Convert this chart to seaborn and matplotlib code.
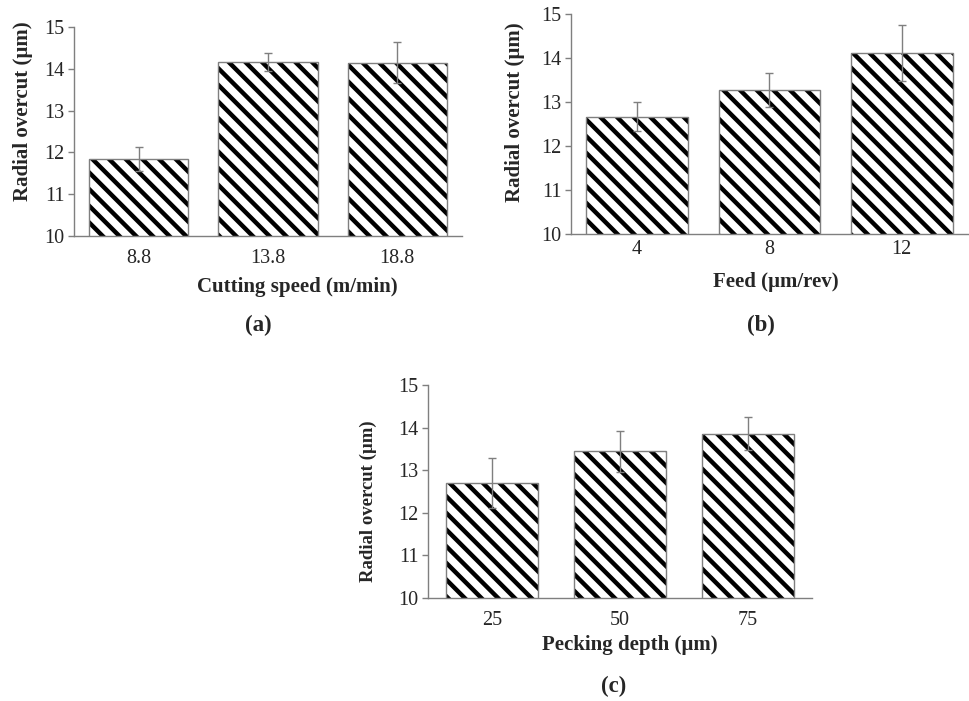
import matplotlib
matplotlib.use("Agg")
import matplotlib.pyplot as plt
import seaborn as sns
import pandas as pd
import numpy as np

# ---- data ----
speed_labels = ["8.8", "13.8", "18.8"]
speed_values = [11.85, 14.16, 14.14]
speed_err = [0.29, 0.22, 0.49]

feed_labels = ["4", "8", "12"]
feed_values = [12.67, 13.27, 14.12]
feed_err = [0.32, 0.39, 0.64]

depth_labels = ["25", "50", "75"]
depth_values = [12.70, 13.44, 13.86]
depth_err = [0.59, 0.49, 0.39]

sns.set_theme(style="white")
plt.rcParams["font.family"] = ["Liberation Serif", "DejaVu Serif"]
plt.rcParams["hatch.linewidth"] = 3.2

fig = plt.figure(figsize=(9.70, 7.01), dpi=100)

GRAY = "#7f7f7f"

panels = [
    # labels, values, err, xlabel, rect, barwidth, ylabel coords, xlabel coords, tickpad, xlabel fs, ylabel fs
    (speed_labels, speed_values, speed_err, "Cutting speed (m/min)",
     [74/970, 1-236/701, 388/970, 209/701], 0.767, (-0.131, 0.598), (0.575, -0.244), 3.6, 15, 15),
    (feed_labels, feed_values, feed_err, "Feed (\u00b5m/rev)",
     [571/970, 1-234/701, 397/970, 220/701], 0.77, (-0.141, 0.555), (0.516, -0.218), -2.0, 15, 15),
    (depth_labels, depth_values, depth_err, "Pecking depth (\u00b5m)",
     [428/970, 1-598/701, 384/970, 213/701], 0.72, (-0.156, 0.455), (0.526, -0.221), 3.6, 15, 13.5),
]

for labels, values, err, xlabel, rect, bw, ylc, xlc, tpad, xfs, yfs in panels:
    ax = fig.add_axes(rect)
    df = pd.DataFrame({"cat": labels, "val": values})
    sns.barplot(data=df, x="cat", y="val", ax=ax, color="white", width=bw,
                hatch="\\\\", edgecolor="black", linewidth=0, errorbar=None,
                saturation=1)
    sns.barplot(data=df, x="cat", y="val", ax=ax, fill=False, width=bw,
                edgecolor=GRAY, linewidth=1.0, errorbar=None)
    ax.errorbar(np.arange(len(labels)), values, yerr=err, fmt="none",
                ecolor=GRAY, elinewidth=1.0, capsize=3, capthick=1.0, zorder=5)
    ax.set_ylim(10, 15)
    ax.set_xlim(-0.5, len(labels) - 0.5)
    ax.set_yticks([10, 11, 12, 13, 14, 15])
    for s in ["top", "right"]:
        ax.spines[s].set_visible(False)
    for s in ["left", "bottom"]:
        ax.spines[s].set_color(GRAY)
        ax.spines[s].set_linewidth(1.0)
    ax.tick_params(axis="y", left=True, length=4, width=1, color=GRAY,
                   labelsize=14.5, labelcolor="#262626", pad=3)
    ax.tick_params(axis="x", bottom=False, labelsize=14.5, labelcolor="#262626", pad=tpad)
    ax.set_xlabel(xlabel, fontsize=xfs, fontweight="bold")
    ax.set_ylabel("Radial overcut (\u00b5m)", fontsize=yfs, fontweight="bold")
    ax.yaxis.set_label_coords(*ylc)
    ax.yaxis.label.set_va("center")
    ax.xaxis.set_label_coords(*xlc)
    ax.xaxis.label.set_va("center")

for txt, x, y in [("(a)", 258, 325), ("(b)", 761, 325), ("(c)", 614, 686)]:
    fig.text(x/970, 1-y/701, txt, fontsize=16.5, fontweight="bold",
             ha="center", va="center")

fig.savefig("out.png", dpi=100, facecolor="white")
